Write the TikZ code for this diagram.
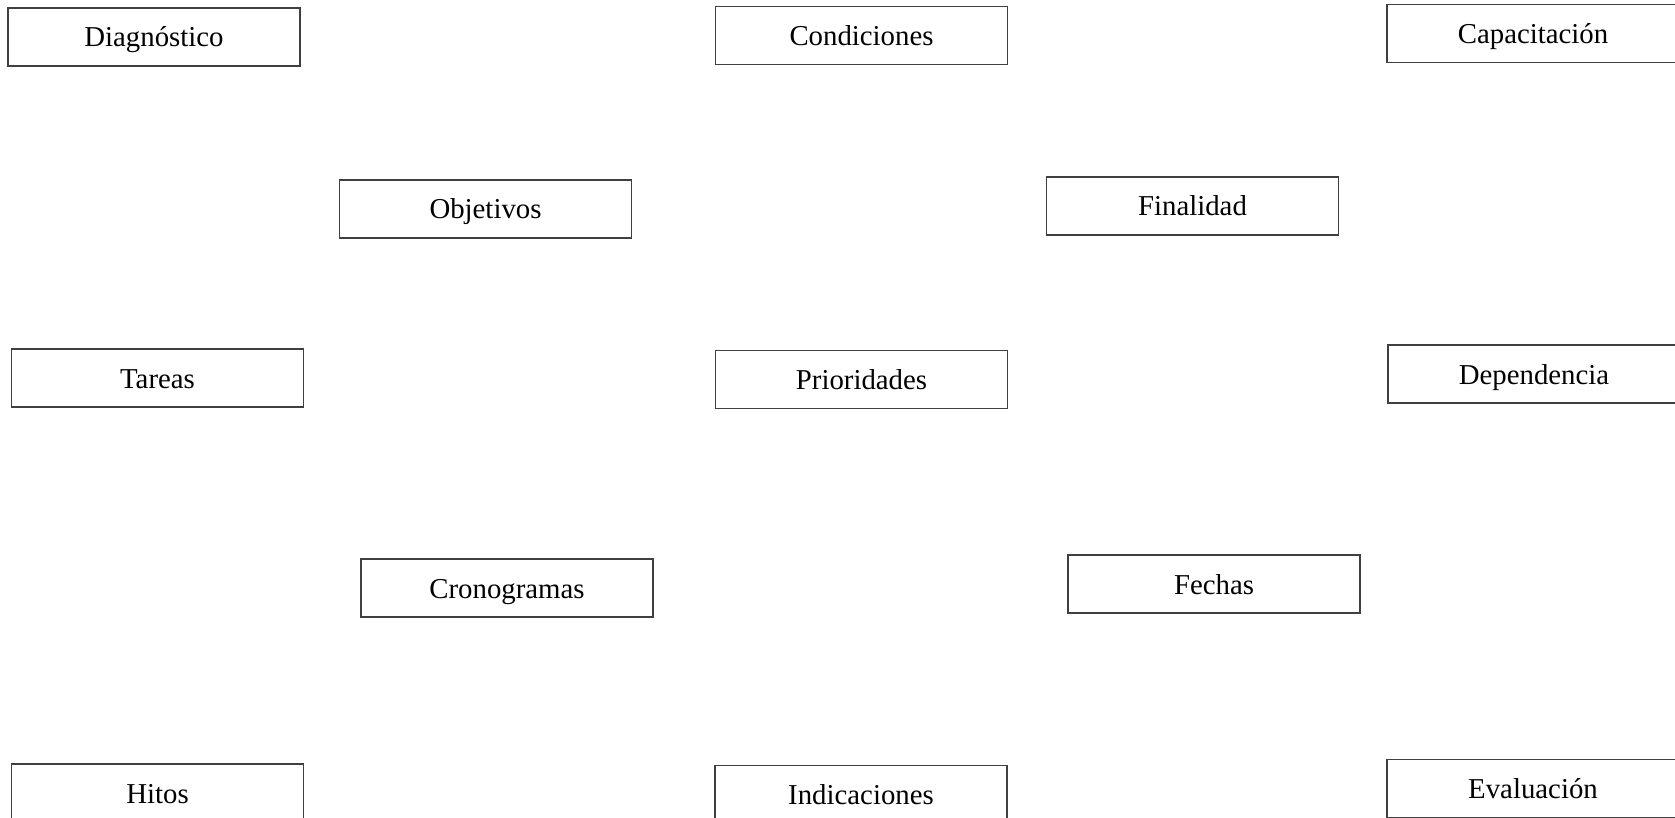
\documentclass[tikz,border=0pt]{standalone}
\usepackage{fontspec}
\setmainfont{Liberation Serif}
\begin{document}
\begin{tikzpicture}[x=1pt,y=-1pt,
  boxnode/.style={draw=black!75, line width=1.6pt, rectangle, minimum width=292pt, minimum height=58pt,
    inner sep=0pt, text height=20pt, text depth=0pt, font=\fontsize{28.8}{34}\selectfont}]
\path[use as bounding box, fill=white] (0,0) rectangle (1675,818);
\clip (0,0) rectangle (1675,818);
\node[boxnode] (diag) at (154,37) {Diagnóstico};
\node[boxnode] (cond) at (861.5,35.5) {Condiciones};
\node[boxnode] (capa) at (1533,33.5) {Capacitación};
\node[boxnode] (obje) at (485.5,209) {Objetivos};
\node[boxnode] (fina) at (1192.5,206) {Finalidad};
\node[boxnode] (tare) at (157.5,378) {Tareas};
\node[boxnode] (prio) at (861.5,379.5) {Prioridades};
\node[boxnode] (depe) at (1534,374) {Dependencia};
\node[boxnode] (cron) at (507,588) {Cronogramas};
\node[boxnode] (fech) at (1214,584) {Fechas};
\node[boxnode] (hito) at (157.5,793) {Hitos};
\node[boxnode] (indi) at (861,794.5) {Indicaciones};
\node[boxnode] (eval) at (1533,788.5) {Evaluación};
\end{tikzpicture}
\end{document}
